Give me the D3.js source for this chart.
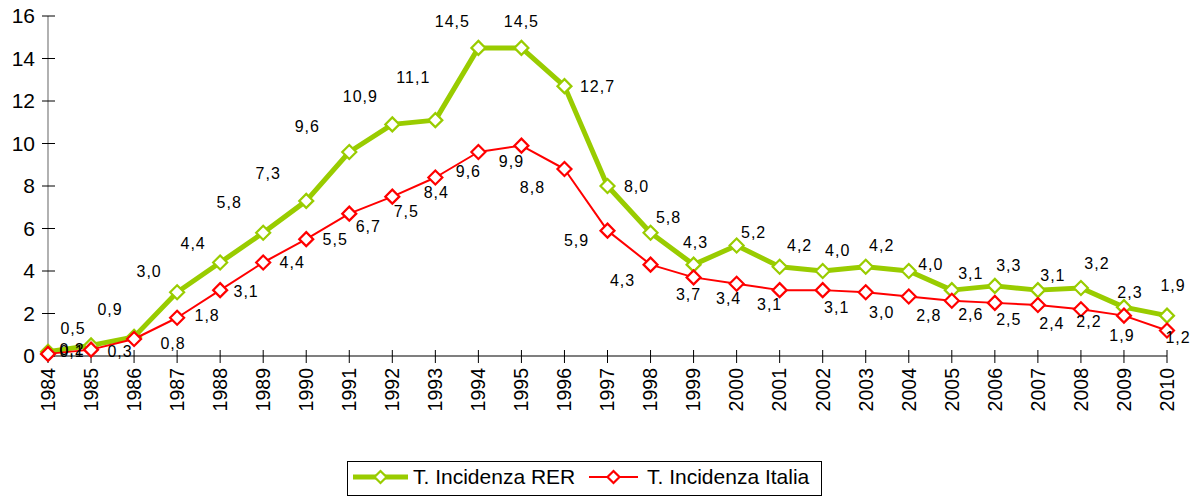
<!DOCTYPE html>
<html>
<head>
<meta charset="utf-8">
<script src="https://cdn.jsdelivr.net/npm/d3@7"></script>
<style>
  html, body { margin: 0; padding: 0; background: #fff; }
  svg { display: block; font-family: "Liberation Sans", Arial, sans-serif; }
</style>
</head>
<body>
<svg id="chart" width="1200" height="499"></svg>
<script>
// Incidence rates per year: Emilia-Romagna (RER) vs Italia
const years = ["1984","1985","1986","1987","1988","1989","1990","1991","1992","1993",
  "1994","1995","1996","1997","1998","1999","2000","2001","2002","2003",
  "2004","2005","2006","2007","2008","2009","2010"];
const rerValues = [0.2,0.5,0.9,3.0,4.4,5.8,7.3,9.6,10.9,11.1,
  14.5,14.5,12.7,8.0,5.8,4.3,5.2,4.2,4.0,4.2,
  4.0,3.1,3.3,3.1,3.2,2.3,1.9];
const italiaValues = [0.1,0.3,0.8,1.8,3.1,4.4,5.5,6.7,7.5,8.4,
  9.6,9.9,8.8,5.9,4.3,3.7,3.4,3.1,3.1,3.0,
  2.8,2.6,2.5,2.4,2.2,1.9,1.2];
const yTicks = [0,2,4,6,8,10,12,14,16];
const seriesNames = ["T. Incidenza RER", "T. Incidenza Italia"];

// Value-label placement relative to each marker [dx, dy]
const rerLabelOffsets = [[24,-2],[-18,-17],[-24,-27],[-28,-21],[-27,-19],[-34,-30],[-38,-27],
  [-42,-26],[-32,-28],[-22,-43],[-26,-26],[0,-26],[33,0],[29,0],[18,-15],[2,-22],
  [17,-13],[20,-21],[15,-21],[16,-21],[22,-7],[19,-17],[14,-20],[15,-15],[16,-25],[6,-15],[6,-30]];
const italiaLabelOffsets = [[24,-2],[29,2],[39,4],[30,-2],[26,1],[29,0],[29,0],
  [19,13],[14,15],[1,15],[-10,19],[-10,16],[-32,18],[-31,10],[-28,16],[-5,17],
  [-8,15],[-10,14],[14,17],[16,20],[20,19],[19,14],[14,17],[14,18],[8,12],[-2,20],[11,7]];

const svg = d3.select("#chart");
const x = d3.scalePoint().domain(years).range([48, 1167]);
const y = d3.scaleLinear().domain([0, 16]).range([356, 16]);
const fmt = v => d3.format(".1f")(v).replace(".", ",");

// Y axis
const yAxis = svg.append("g");
yAxis.append("line").attr("x1", 48).attr("x2", 48).attr("y1", y(16)).attr("y2", y(0))
  .attr("stroke", "#888").attr("stroke-width", 1.3);
yAxis.selectAll("line.tick").data(yTicks).join("line").attr("class", "tick")
  .attr("x1", 42).attr("x2", 55).attr("y1", d => y(d)).attr("y2", d => y(d))
  .attr("stroke", "#000").attr("stroke-width", 1);
yAxis.selectAll("text").data(yTicks).join("text")
  .attr("x", 35).attr("y", d => y(d)).attr("dy", "0.35em")
  .attr("text-anchor", "end").attr("font-size", 21).attr("fill", "#000")
  .text(d => d);

// X axis
const xAxis = svg.append("g");
xAxis.append("line").attr("x1", 48).attr("x2", 1167).attr("y1", y(0)).attr("y2", y(0))
  .attr("stroke", "#000").attr("stroke-width", 1.2);
xAxis.selectAll("line.tick").data(years).join("line").attr("class", "tick")
  .attr("x1", d => x(d)).attr("x2", d => x(d)).attr("y1", y(0) - 6).attr("y2", y(0) + 7)
  .attr("stroke", "#000").attr("stroke-width", 1);
xAxis.selectAll("text").data(years).join("text")
  .attr("transform", d => `translate(${x(d)},368) rotate(-90)`)
  .attr("dy", "0.35em").attr("text-anchor", "end")
  .attr("font-size", 19.5).attr("fill", "#000")
  .text(d => d);

// Diamond marker path centred on 0,0
const diamond = r => `M0,${-r}L${r},0L0,${r}L${-r},0Z`;

function drawSeries(values, color, lineWidth) {
  const g = svg.append("g");
  const line = d3.line().x((d, i) => x(years[i])).y(d => y(d));
  g.append("path").datum(values).attr("d", line)
    .attr("fill", "none").attr("stroke", color).attr("stroke-width", lineWidth)
    .attr("stroke-linejoin", "round");
  g.selectAll("path.m").data(values).join("path").attr("class", "m")
    .attr("d", diamond(7))
    .attr("transform", (d, i) => `translate(${x(years[i])},${y(d)})`)
    .attr("fill", "#fff").attr("stroke", color).attr("stroke-width", 2.2);
  return g;
}

function drawLabels(values, offsets) {
  svg.append("g").selectAll("text").data(values).join("text")
    .attr("x", (d, i) => x(years[i]) + offsets[i][0])
    .attr("y", (d, i) => y(d) + offsets[i][1])
    .attr("dy", "0.35em").attr("text-anchor", "middle")
    .attr("font-size", 16).attr("letter-spacing", 1).attr("fill", "#000")
    .text(d => fmt(d));
}

drawSeries(rerValues, "#99cc00", 5);
drawSeries(italiaValues, "#ff0000", 2);
drawLabels(rerValues, rerLabelOffsets);
drawLabels(italiaValues, italiaLabelOffsets);

// Legend
const lg = svg.append("g");
lg.append("rect").attr("x", 347.5).attr("y", 461.5).attr("width", 474).attr("height", 34)
  .attr("fill", "#fff").attr("stroke", "#000").attr("stroke-width", 1);
const legendItems = [
  { name: seriesNames[0], color: "#99cc00", w: 5, x0: 353, x1: 408, tx: 413 },
  { name: seriesNames[1], color: "#ff0000", w: 2, x0: 589, x1: 638, tx: 647 }
];
legendItems.forEach(it => {
  lg.append("line").attr("x1", it.x0).attr("x2", it.x1).attr("y1", 477).attr("y2", 477)
    .attr("stroke", it.color).attr("stroke-width", it.w);
  lg.append("path").attr("d", diamond(6))
    .attr("transform", `translate(${(it.x0 + it.x1) / 2},477)`)
    .attr("fill", "#fff").attr("stroke", it.color).attr("stroke-width", 2.2);
  lg.append("text").attr("x", it.tx).attr("y", 477).attr("dy", "0.35em")
    .attr("font-size", 21).attr("fill", "#000").text(it.name);
});
</script>
</body>
</html>
